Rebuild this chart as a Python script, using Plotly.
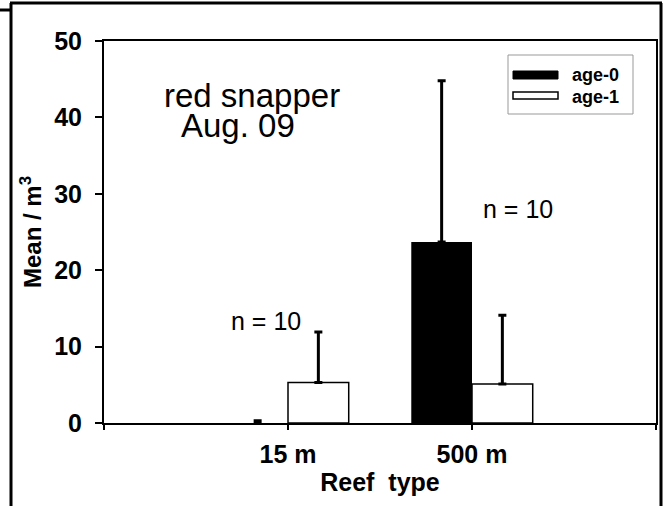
import plotly.graph_objects as go

# ---- data ----
categories = ["15 m", "500 m"]
cat_pos = [0, 1]
age0_mean = [0.0, 23.7]
age0_err = [0.3, 21.1]
age1_mean = [5.3, 5.1]
age1_err = [6.6, 9.0]
y_ticks = [0, 10, 20, 30, 40, 50]
series_names = ["age-0", "age-1"]
n_labels = ["n = 10", "n = 10"]

FONT = "Arial, Liberation Sans, sans-serif"
W, H = 665, 506
L, R, T, B = 104, 9, 41, 83
PW, PH = W - L - R, H - T - B


def px(xp):
    return (xp - L) / PW


def py(yp):
    return (H - B - yp) / PH


fig = go.Figure()
fig.add_trace(go.Bar(
    x=cat_pos, y=age0_mean, name=series_names[0],
    marker=dict(color="black", line=dict(width=0)),
    error_y=dict(type="data", array=age0_err, arrayminus=[0, 0], symmetric=False,
                 color="black", thickness=3, width=4),
))
fig.add_trace(go.Bar(
    x=cat_pos, y=age1_mean, name=series_names[1],
    marker=dict(color="white", line=dict(color="black", width=1.5)),
    error_y=dict(type="data", array=age1_err, arrayminus=[0, 0], symmetric=False,
                 color="black", thickness=3, width=4),
))

annotations = [
    dict(x=-0.12, y=13.4, xref="x", yref="y", text=n_labels[0], showarrow=False,
         xanchor="center", yanchor="middle",
         font=dict(family=FONT, size=25, color="black")),
    dict(x=1.25, y=28.0, xref="x", yref="y", text=n_labels[1], showarrow=False,
         xanchor="center", yanchor="middle",
         font=dict(family=FONT, size=25, color="black")),
    dict(x=-0.196, y=42.9, xref="x", yref="y", text="red snapper", showarrow=False,
         xanchor="center", yanchor="middle",
         font=dict(family=FONT, size=33, color="black")),
    dict(x=-0.27, y=38.9, xref="x", yref="y", text="Aug. 09", showarrow=False,
         xanchor="center", yanchor="middle",
         font=dict(family=FONT, size=33, color="black")),
    # legend labels
    dict(x=px(570), y=py(75), xref="paper", yref="paper", text=series_names[0],
         showarrow=False, xanchor="left", yanchor="middle",
         font=dict(family=FONT, size=18, color="black", weight="bold")),
    dict(x=px(570), y=py(97), xref="paper", yref="paper", text=series_names[1],
         showarrow=False, xanchor="left", yanchor="middle",
         font=dict(family=FONT, size=18, color="black", weight="bold")),
]

shapes = [
    # outer frame of the figure
    dict(type="line", xref="paper", yref="paper", x0=px(10), x1=px(662), y0=py(3), y1=py(3),
         line=dict(color="black", width=3)),
    dict(type="line", xref="paper", yref="paper", x0=px(11), x1=px(11), y0=py(3), y1=py(506),
         line=dict(color="black", width=3)),
    dict(type="line", xref="paper", yref="paper", x0=px(661), x1=px(661), y0=py(3), y1=py(506),
         line=dict(color="black", width=3)),
    dict(type="line", xref="paper", yref="paper", x0=px(0), x1=px(11), y0=py(10), y1=py(10),
         line=dict(color="black", width=3)),
    # legend box and keys
    dict(type="rect", xref="paper", yref="paper", x0=px(508), x1=px(633), y0=py(55), y1=py(114),
         line=dict(color="#999999", width=1), fillcolor="white", layer="above"),
    dict(type="rect", xref="paper", yref="paper", x0=px(513), x1=px(558), y0=py(71), y1=py(79),
         line=dict(color="black", width=1), fillcolor="black", layer="above"),
    dict(type="rect", xref="paper", yref="paper", x0=px(513), x1=px(558), y0=py(92), y1=py(99),
         line=dict(color="black", width=1.5), fillcolor="white", layer="above"),
]

fig.update_layout(
    width=W, height=H,
    margin=dict(l=L, r=R, t=T, b=B, pad=0),
    paper_bgcolor="white", plot_bgcolor="white",
    barmode="group", bargap=0.34, bargroupgap=0,
    font=dict(family=FONT, color="black"),
    showlegend=False,
    annotations=annotations,
    shapes=shapes,
)
fig.update_xaxes(
    range=[-1, 2], tickvals=cat_pos, ticktext=categories,
    ticks="outside", ticklen=5, tickwidth=1.5, tickcolor="black",
    minor=dict(tickvals=[-1, 2], ticks="outside", ticklen=5, tickwidth=1.5, tickcolor="black"),
    showline=True, linecolor="black", linewidth=2, mirror=True,
    showgrid=False, zeroline=False, automargin=False,
    ticklabelstandoff=3,
    tickfont=dict(family=FONT, size=25, color="black", weight="bold"),
    title=dict(text="Reef\u00a0 type", standoff=4,
               font=dict(family=FONT, size=25, color="black", weight="bold")),
)
fig.update_yaxes(
    range=[0, 50], tickvals=y_ticks,
    ticks="outside", ticklen=7, tickwidth=1.5, tickcolor="black",
    showline=True, linecolor="black", linewidth=2, mirror=True,
    showgrid=False, zeroline=False, automargin=False,
    ticklabelstandoff=8,
    tickfont=dict(family=FONT, size=25, color="black", weight="bold"),
    title=dict(text="Mean / m<sup>3</sup>", standoff=6,
               font=dict(family=FONT, size=24, color="black", weight="bold")),
)

fig.write_html(
    "out.html",
    config={"displayModeBar": False},
    post_script="document.body.style.margin='0';document.body.style.overflow='hidden';",
)
